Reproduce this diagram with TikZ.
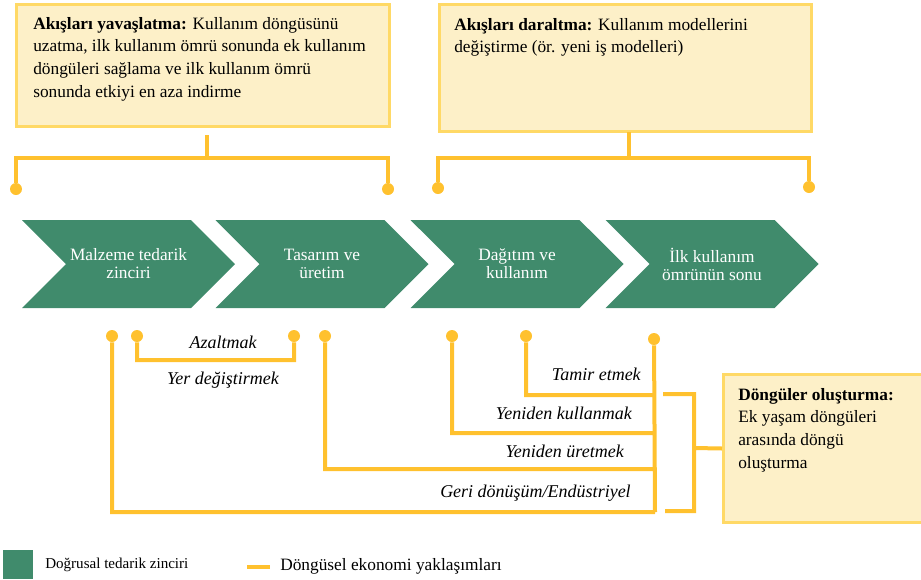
\documentclass[tikz,border=0pt]{standalone}
\usepackage{fontspec}
\setmainfont{Liberation Serif}
\usepackage{tikz}
\usetikzlibrary{positioning}
\usetikzlibrary{shapes.symbols}
\definecolor{chaingreen}{RGB}{64,139,108}
\definecolor{loopgold}{RGB}{255,193,46}
\definecolor{boxfill}{RGB}{253,240,200}
\definecolor{boxline}{RGB}{255,217,102}
\tikzset{stage/.style={signal,signal from=west,signal to=east,signal pointer angle=90,fill=chaingreen,draw=none,minimum width=159.75pt,minimum height=66pt,inner sep=0pt,text=white,align=center,font=\fontsize{13}{13.5}\selectfont},
	goldbox/.style={rectangle,fill=boxfill,draw=boxline,line width=2.3pt,inner sep=0pt},
	boxtext/.style={align=left,inner sep=0pt,font=\fontsize{13}{17}\selectfont},
	dot/.style={circle,fill=loopgold,inner sep=0pt,minimum size=9pt},
	looptext/.style={inner sep=0pt,font=\fontsize{13.5}{15}\selectfont\itshape},
	loopline/.style={draw=loopgold,line width=3pt},}

\begin{document}
\begin{tikzpicture}[x=0.75pt,y=-0.75pt]
	\useasboundingbox (0,0) rectangle (921,579);
	% top boxes
	\node[goldbox, minimum width=279.75pt, minimum height=91.5pt] (slow) at (203,65.5) {};
	\node[boxtext, anchor=north west] (slowtxt) at (33,17) {\textbf{Akışları yavaşlatma:} Kullanım döngüsünü\\uzatma, ilk kullanım ömrü sonunda ek kullanım\\döngüleri sağlama ve ilk kullanım ömrü\\sonunda etkiyi en aza indirme};
	\node[goldbox, minimum width=279pt, minimum height=95.25pt] (narrow) at (625.5,68) {};
	\node[boxtext, anchor=north west] (narrowtxt) at (454,18) {\textbf{Akışları daraltma:} Kullanım modellerini\\değiştirme (ör. yeni iş modelleri)};
	\node[goldbox, minimum width=151.1pt, minimum height=111pt] (loopbox) at (824.25,448.5) {};
	\node[boxtext, anchor=north west] (looptxt) at (738,388) {\textbf{Döngüler oluşturma:}\\Ek yaşam döngüleri\\arasında döngü\\oluşturma};

	% linear chain
	\node[stage] (supply) at (128.5,264) {Malzeme tedarik\\zinciri};
	\node[stage] (design) at (322,264) {Tasarım ve\\üretim};
	\node[stage] (use) at (517,264) {Dağıtım ve\\kullanım};
	\node[stage] (eol) at (712,264) {İlk kullanım\\ömrünün sonu};

	% brackets above the chain
	\coordinate (slowtop) at (207,135);
	\coordinate (slowmid) at (207,158);
	\node[dot] (slowL) at (16,189) {};
	\node[dot] (slowR) at (388,189) {};
	\coordinate (narrowtop) at (629,132);
	\coordinate (narrowmid) at (629,158);
	\node[dot] (narrowL) at (438,188) {};
	\node[dot] (narrowR) at (809,187) {};
	\path[loopline]
	(slowtop) -- (slowmid)
	(slowL) |- (slowmid) -| (slowR)
	(narrowtop) -- (narrowmid)
	(narrowL) |- (narrowmid) -| (narrowR);

	% loops below the chain
	\node[dot] (recA) at (112,336) {};
	\node[dot] (redB) at (137,336) {};
	\node[dot] (redC) at (294,336) {};
	\node[dot] (remD) at (325,336) {};
	\node[dot] (reuE) at (452,336) {};
	\node[dot] (repF) at (526,336) {};
	\node[dot] (colG) at (654,339) {};
	\coordinate (redlow) at (215,360);
	\coordinate (col1) at (655,395);
	\coordinate (col2) at (655,433);
	\coordinate (col3) at (655,469);
	\coordinate (col4) at (655,512);
	\path[loopline]
	(redB) |- (redlow) -| (redC)
	(repF) |- (col1)
	(reuE) |- (col2)
	(remD) |- (col3)
	(recA) |- (col4)
	(colG) -- (col4);

	\node[looptext] (reduce) at (223,342) {Azaltmak};
	\node[looptext] (relocate) at (223,380) {Yer değiştirmek};
	\node[looptext, anchor=east] (repair) at (641,374) {Tamir etmek};
	\node[looptext, anchor=east] (reuse) at (632,413) {Yeniden kullanmak};
	\node[looptext, anchor=east] (reman) at (624,451) {Yeniden üretmek};
	\node[looptext, anchor=east] (recycle) at (631,493) {Geri dönüşüm/Endüstriyel};

	% bracket to the loop box
	\coordinate (loopT) at (663,394);
	\coordinate (loopM) at (694,448);
	\coordinate (loopB) at (665,511);
	\path[loopline]
	(loopT) -| (loopM) |- (loopB)
	(loopM) -- (loopbox.west);

	% legend
	\node[rectangle, fill=chaingreen, minimum width=22.5pt, minimum height=21.75pt, inner sep=0pt] (keylin) at (18,564.5) {};
	\node[anchor=west, inner sep=0pt, font=\fontsize{11.3}{12}\selectfont] (keylintxt) at (45,565) {Doğrusal tedarik zinciri};
	\coordinate (keyloopA) at (247,567);
	\coordinate (keyloopB) at (270,567);
	\path[loopline] (keyloopA) -- (keyloopB);
	\node[anchor=west, inner sep=0pt, font=\fontsize{13}{15}\selectfont] (keylooptxt) at (280,566) {Döngüsel ekonomi yaklaşımları};
\end{tikzpicture}
\end{document}
